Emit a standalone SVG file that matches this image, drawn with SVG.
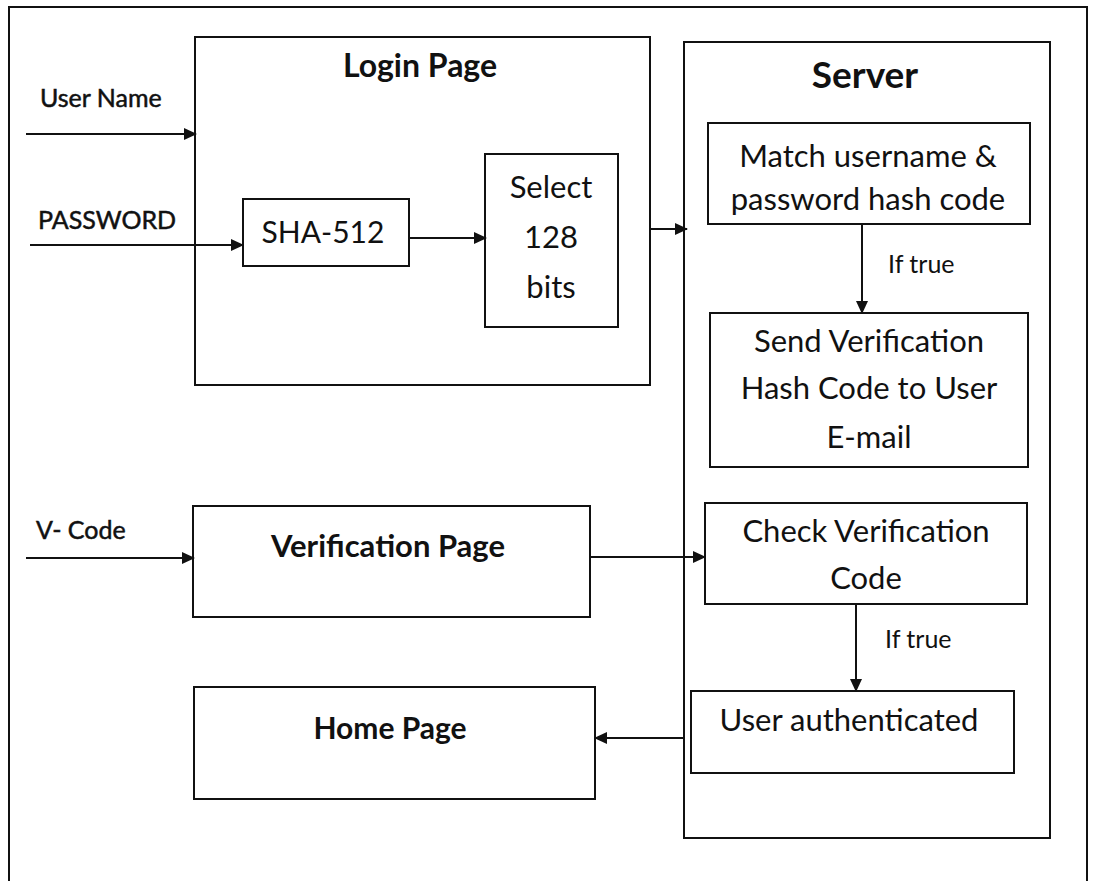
<svg xmlns="http://www.w3.org/2000/svg" width="1094" height="881" viewBox="0 0 1094 881">
  <defs>
    <marker id="arr" viewBox="0 0 13 12" refX="12" refY="6" markerWidth="13" markerHeight="12" markerUnits="userSpaceOnUse" orient="auto">
      <path d="M0,0 L13,6 L0,12 z" fill="#111"/>
    </marker>
    <style>
      .box { fill: #fff; stroke: #111; stroke-width: 2; }
      .frame { fill: none; stroke: #111; stroke-width: 2; }
      .edge { fill: none; stroke: #111; stroke-width: 2; marker-end: url(#arr); }
      text { font-family: Lato, "Open Sans", "Liberation Sans", sans-serif; fill: #111; }
      .title { font-weight: bold; font-size: 31px; text-anchor: middle; }
      .body { font-size: 31px; text-anchor: middle; }
      .lbl { font-size: 25px; stroke: #111; stroke-width: 0.5; }
      .cond { font-size: 25px; }
    </style>
  </defs>
  <rect width="1094" height="881" fill="#fff"/>

  <!-- outer frame (open at the bottom) -->
  <path class="frame" d="M9,881 V7 H1087 V881"/>

  <g id="login-page">
    <rect class="box" x="195" y="37" width="455" height="348"/>
    <text class="title" x="420" y="77" style="font-size:32px">Login Page</text>
  </g>

  <g id="sha512">
    <rect class="box" x="243" y="199" width="166" height="67"/>
    <text class="body" x="323" y="243" style="font-size:30px">SHA-512</text>
  </g>

  <g id="select-bits">
    <rect class="box" x="485" y="154" width="133" height="173"/>
    <text class="body" x="551" y="198">Select</text>
    <text class="body" x="551" y="248">128</text>
    <text class="body" x="551" y="298">bits</text>
  </g>

  <g id="server">
    <rect class="box" x="684" y="42" width="366" height="796"/>
    <text class="title" x="865" y="88" style="font-size:37px">Server</text>
  </g>

  <g id="match-hash">
    <rect class="box" x="708" y="123" width="322" height="101"/>
    <text class="body" x="868" y="167">Match username &amp;</text>
    <text class="body" x="868" y="210">password hash code</text>
  </g>

  <g id="send-code">
    <rect class="box" x="710" y="313" width="318" height="154"/>
    <text class="body" x="869" y="352">Send Verification</text>
    <text class="body" x="869" y="399">Hash Code to User</text>
    <text class="body" x="869" y="448">E-mail</text>
  </g>

  <g id="check-code">
    <rect class="box" x="705" y="503" width="322" height="101"/>
    <text class="body" x="866" y="542">Check Verification</text>
    <text class="body" x="866" y="589">Code</text>
  </g>

  <g id="authenticated">
    <rect class="box" x="691" y="691" width="323" height="82"/>
    <text class="body" x="849" y="731">User authenticated</text>
  </g>

  <g id="verification-page">
    <rect class="box" x="193" y="506" width="397" height="111"/>
    <text class="title" x="388" y="557">Verification Page</text>
  </g>

  <g id="home-page">
    <rect class="box" x="194" y="687" width="401" height="112"/>
    <text class="title" x="390" y="739" style="font-size:30px">Home Page</text>
  </g>

  <g id="connectors">
    <path class="edge" d="M26,134 H196"/>
    <path class="edge" d="M30,245 H243"/>
    <path class="edge" d="M409,238 H486"/>
    <path class="edge" d="M650,229 H687"/>
    <path class="edge" d="M862,224 V313"/>
    <path class="edge" d="M26,558 H194"/>
    <path class="edge" d="M590,557 H705"/>
    <path class="edge" d="M856,604 V691"/>
    <path class="edge" d="M684,738 H595"/>
  </g>

  <g id="labels">
    <text class="lbl" x="40" y="107">User Name</text>
    <text class="lbl" x="38" y="229">PASSWORD</text>
    <text class="lbl" x="36" y="539">V- Code</text>
    <text class="cond" x="888" y="273">If true</text>
    <text class="cond" x="885" y="648">If true</text>
  </g>
</svg>
